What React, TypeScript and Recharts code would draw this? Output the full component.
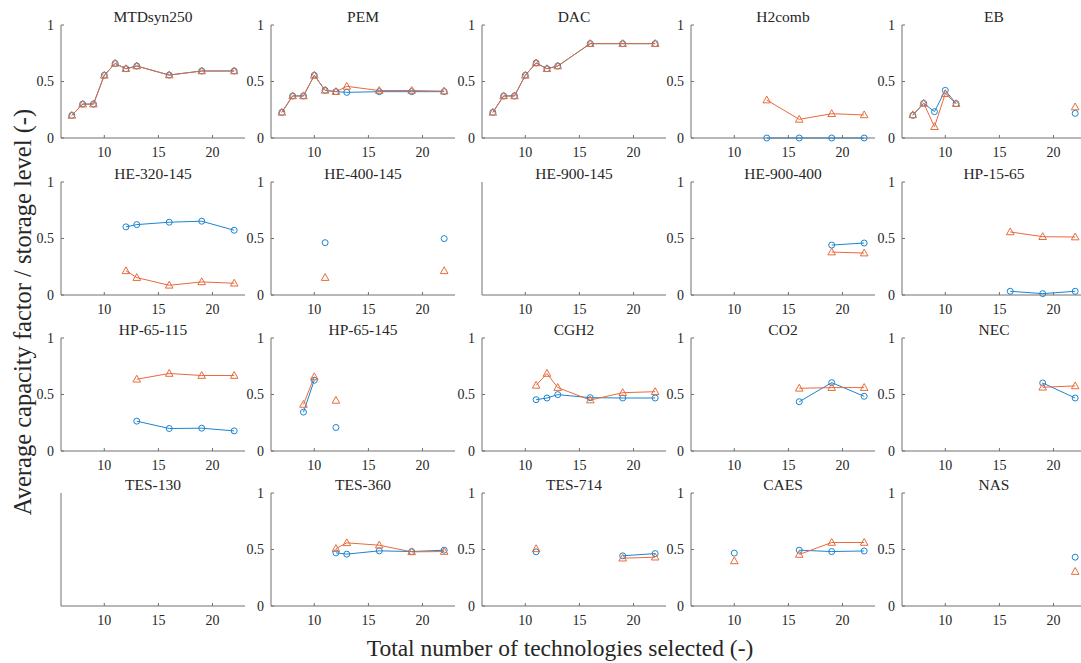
import React from 'react';
import { LineChart, Line, XAxis, YAxis } from 'recharts';

// x positions = number of technologies in each scenario
const scenarios = [7, 8, 9, 10, 11, 12, 13, 16, 19, 22];
const xTicks = [10, 15, 20];
const yTicks = [0, 0.5, 1];
const _ = null;

// blue circles (first series) / orange triangles (second series), null = not selected
const mtdsynBlue = [0.2, 0.3, 0.3, 0.555, 0.66, 0.613, 0.637, 0.557, 0.593, 0.593];
const mtdsynOrange = [0.2, 0.3, 0.3, 0.555, 0.66, 0.613, 0.637, 0.557, 0.593, 0.593];
const pemBlue = [0.227, 0.372, 0.372, 0.555, 0.422, 0.41, 0.404, 0.41, 0.41, 0.41];
const pemOrange = [0.227, 0.372, 0.372, 0.555, 0.422, 0.41, 0.457, 0.42, 0.42, 0.415];
const dacBlue = [0.227, 0.372, 0.372, 0.555, 0.664, 0.613, 0.637, 0.835, 0.835, 0.835];
const dacOrange = [0.227, 0.372, 0.372, 0.555, 0.664, 0.613, 0.637, 0.835, 0.835, 0.835];
const h2combBlue = [_, _, _, _, _, _, 0, 0, 0, 0];
const h2combOrange = [_, _, _, _, _, _, 0.336, 0.165, 0.215, 0.204];
const ebBlue = [0.2, 0.307, 0.233, 0.422, 0.304, _, _, _, _, 0.218];
const ebOrange = [0.205, 0.307, 0.1, 0.392, 0.304, _, _, _, _, 0.274];
const he320Blue = [_, _, _, _, _, 0.603, 0.623, 0.644, 0.653, 0.573];
const he320Orange = [_, _, _, _, _, 0.214, 0.154, 0.086, 0.116, 0.104];
const he400Blue = [_, _, _, _, 0.463, _, _, _, _, 0.499];
const he400Orange = [_, _, _, _, 0.154, _, _, _, _, 0.214];
const he900Blue = [_, _, _, _, _, _, _, _, _, _];
const he900Orange = [_, _, _, _, _, _, _, _, _, _];
const he900400Blue = [_, _, _, _, _, _, _, _, 0.442, 0.46];
const he900400Orange = [_, _, _, _, _, _, _, _, 0.38, 0.371];
const hp1565Blue = [_, _, _, _, _, _, _, 0.033, 0.012, 0.033];
const hp1565Orange = [_, _, _, _, _, _, _, 0.558, 0.516, 0.513];
const hp65115Blue = [_, _, _, _, _, _, 0.264, 0.199, 0.202, 0.178];
const hp65115Orange = [_, _, _, _, _, _, 0.635, 0.686, 0.668, 0.668];
const hp65145Blue = [_, _, 0.344, 0.626, _, 0.208, _, _, _, _];
const hp65145Orange = [_, _, 0.412, 0.656, _, 0.448, _, _, _, _];
const cgh2Blue = [_, _, _, _, 0.454, 0.469, 0.499, 0.472, 0.469, 0.469];
const cgh2Orange = [_, _, _, _, 0.581, 0.686, 0.561, 0.451, 0.516, 0.525];
const co2Blue = [_, _, _, _, _, _, _, 0.436, 0.605, 0.484];
const co2Orange = [_, _, _, _, _, _, _, 0.555, 0.561, 0.561];
const necBlue = [_, _, _, _, _, _, _, _, 0.602, 0.469];
const necOrange = [_, _, _, _, _, _, _, _, 0.564, 0.576];
const tes130Blue = [_, _, _, _, _, _, _, _, _, _];
const tes130Orange = [_, _, _, _, _, _, _, _, _, _];
const tes360Blue = [_, _, _, _, _, 0.47, 0.459, 0.488, 0.482, 0.494];
const tes360Orange = [_, _, _, _, _, 0.508, 0.559, 0.538, 0.479, 0.482];
const tes714Blue = [_, _, _, _, 0.479, _, _, _, 0.444, 0.464];
const tes714Orange = [_, _, _, _, 0.506, _, _, _, 0.423, 0.432];
const caesBlue = [_, _, _, 0.468, _, _, _, 0.494, 0.482, 0.487];
const caesOrange = [_, _, _, 0.399, _, _, _, 0.456, 0.562, 0.562];
const nasBlue = [_, _, _, _, _, _, _, _, _, 0.432];
const nasOrange = [_, _, _, _, _, _, _, _, _, 0.305];

const titles = [
  'MTDsyn250', 'PEM', 'DAC', 'H2comb', 'EB',
  'HE-320-145', 'HE-400-145', 'HE-900-145', 'HE-900-400', 'HP-15-65',
  'HP-65-115', 'HP-65-145', 'CGH2', 'CO2', 'NEC',
  'TES-130', 'TES-360', 'TES-714', 'CAES', 'NAS',
];
const blueSeries = [
  mtdsynBlue, pemBlue, dacBlue, h2combBlue, ebBlue,
  he320Blue, he400Blue, he900Blue, he900400Blue, hp1565Blue,
  hp65115Blue, hp65145Blue, cgh2Blue, co2Blue, necBlue,
  tes130Blue, tes360Blue, tes714Blue, caesBlue, nasBlue,
];
const orangeSeries = [
  mtdsynOrange, pemOrange, dacOrange, h2combOrange, ebOrange,
  he320Orange, he400Orange, he900Orange, he900400Orange, hp1565Orange,
  hp65115Orange, hp65145Orange, cgh2Orange, co2Orange, necOrange,
  tes130Orange, tes360Orange, tes714Orange, caesOrange, nasOrange,
];

const BLUE = '#1a85d0';
const ORANGE = '#e96a3c';
const AXIS = '#707070';
const TEXT = '#262626';
const FONT = '"Liberation Serif", "Times New Roman", serif';

const plotW = 184;
const plotH = 113;
const colX = [61, 271, 482, 691, 902];
const rowY = [25, 182, 338, 493];
const yAxisW = 40;
const mTop = 25;
const xAxisH = 25;

const circleDot = (props: any) => {
  const { cx, cy, value, index } = props;
  if (value == null || cy == null) return <g key={`c-${index}`} />;
  return <circle key={`c-${index}`} cx={cx} cy={cy} r={3} fill="none" stroke={BLUE} strokeWidth={1} />;
};

const triangleDot = (props: any) => {
  const { cx, cy, value, index } = props;
  if (value == null || cy == null) return <g key={`t-${index}`} />;
  const d = `M${cx},${cy - 4}L${cx - 3.8},${cy + 2.8}L${cx + 3.8},${cy + 2.8}Z`;
  return <path key={`t-${index}`} d={d} fill="none" stroke={ORANGE} strokeWidth={1} />;
};

function Panel({ idx }: { idx: number }) {
  const col = idx % 5;
  const row = Math.floor(idx / 5);
  const data = scenarios.map((x, i) => ({ x, a: blueSeries[idx][i], b: orangeSeries[idx][i] }));
  const tick = { fontSize: 14, fill: TEXT, fontFamily: FONT };
  return (
    <div style={{ position: 'absolute', left: colX[col] - yAxisW, top: rowY[row] - mTop }}>
      <LineChart
        width={yAxisW + plotW + 4}
        height={mTop + plotH + xAxisH}
        data={data}
        margin={{ top: mTop, right: 4, bottom: 0, left: 0 }}
      >
        <XAxis
          dataKey="x"
          type="number"
          domain={[6, 23]}
          ticks={xTicks}
          allowDataOverflow
          height={xAxisH}
          stroke={AXIS}
          tickSize={-3}
          tickMargin={12}
          tick={tick}
        />
        <YAxis
          type="number"
          domain={[0, 1]}
          ticks={yTicks}
          width={yAxisW}
          stroke={AXIS}
          tickSize={-3}
          tickMargin={10}
          tick={tick}
        />
        <Line dataKey="a" stroke={BLUE} strokeWidth={1} dot={circleDot} activeDot={false} isAnimationActive={false} />
        <Line dataKey="b" stroke={ORANGE} strokeWidth={1} dot={triangleDot} activeDot={false} isAnimationActive={false} />
      </LineChart>
    </div>
  );
}

export default function App() {
  return (
    <div style={{ position: 'absolute', left: 0, top: 0, width: 1081, height: 663, overflow: 'hidden', background: '#fff' }}>
      <svg width={1081} height={663} style={{ position: 'absolute', left: 0, top: 0 }}>
        {titles.map((t, i) => (
          <text
            key={t}
            x={colX[i % 5] + plotW / 2}
            y={rowY[Math.floor(i / 5)] - 9}
            textAnchor="middle"
            dominantBaseline="central"
            fontFamily={FONT}
            fontSize={15.5}
            fill={TEXT}
          >
            {t}
          </text>
        ))}
        <text x={560} y={648} textAnchor="middle" dominantBaseline="central" fontFamily={FONT} fontSize={23.5} fill={TEXT}>
          Total number of technologies selected (-)
        </text>
        <text
          x={22}
          y={312}
          textAnchor="middle"
          dominantBaseline="central"
          fontFamily={FONT}
          fontSize={24.5}
          fill={TEXT}
          transform="rotate(-90 22 312)"
        >
          Average capacity factor / storage level (-)
        </text>
      </svg>
      {titles.map((t, i) => (
        <Panel key={t} idx={i} />
      ))}
    </div>
  );
}
